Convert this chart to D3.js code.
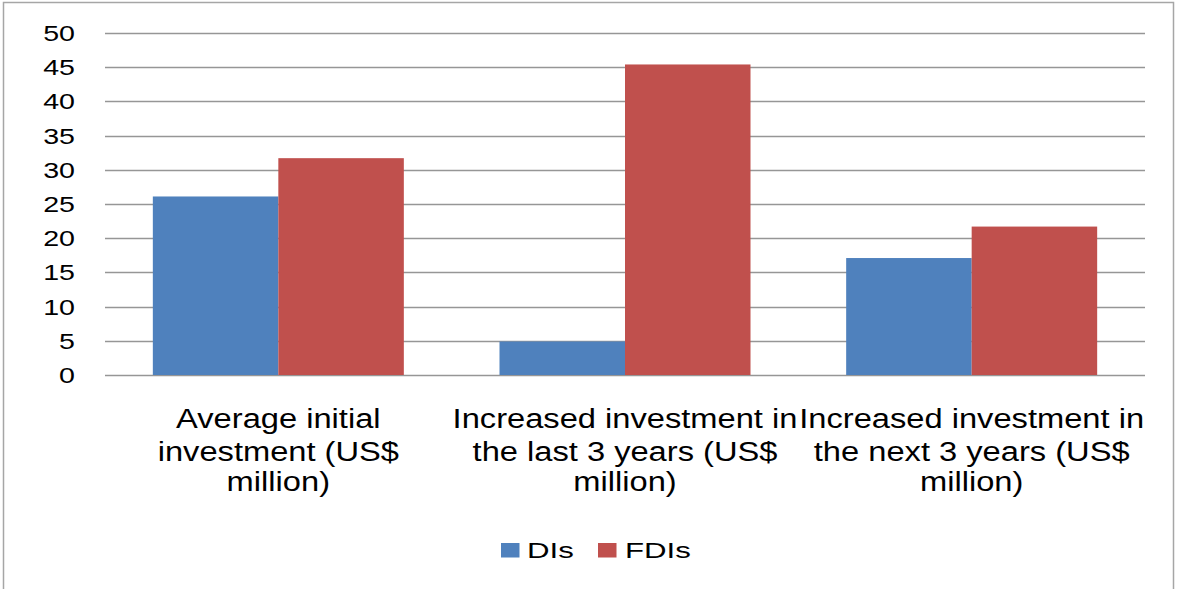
<!DOCTYPE html>
<html><head><meta charset="utf-8">
<script src="https://cdn.jsdelivr.net/npm/d3@7/dist/d3.min.js"></script>
<style>body{margin:0;background:#fff}svg{display:block}text{font-family:"Liberation Sans",Arial,sans-serif;fill:#000}</style>
</head><body>
<svg id="c" width="1179" height="589"></svg>
<script>
const categories = [
  ["Average initial", "investment (US$", "million)"],
  ["Increased investment in", "the last 3 years (US$", "million)"],
  ["Increased investment in", "the next 3 years (US$", "million)"]
];
const seriesNames = ["DIs", "FDIs"];
const colors = ["#4F81BD", "#C0504D"];
const DIs = [26.1, 4.9, 17.1];
const FDIs = [31.7, 45.4, 21.7];
const yTicks = [0, 5, 10, 15, 20, 25, 30, 35, 40, 45, 50];

const svg = d3.select("#c");
svg.append("rect").attr("x", 3.5).attr("y", 2.5).attr("width", 1170).attr("height", 600)
  .attr("fill", "#fff").attr("stroke", "#a6a6a6").attr("stroke-width", 1.5);

const L = 105, R = 1145, T = 33, B = 375;
const x0 = d3.scaleBand().domain(d3.range(categories.length)).range([L, R]).paddingInner(0).paddingOuter(0);
const barW = 125.5;
const y = d3.scaleLinear().domain([0, 50]).range([B, T]);

// gridlines
svg.append("g").selectAll("line").data(yTicks).join("line")
  .attr("x1", L).attr("x2", R)
  .attr("y1", d => Math.round(y(d)) + 0.5).attr("y2", d => Math.round(y(d)) + 0.5)
  .attr("stroke", "#969696").attr("stroke-width", 1.3);

// tick labels
svg.append("g").selectAll("text").data(yTicks).join("text")
  .attr("transform", d => `translate(75,${y(d) + 8}) scale(1.3,1)`)
  .attr("text-anchor", "end").attr("font-size", 22).text(d => d);

// bars
const data = [DIs, FDIs];
data.forEach((vals, si) => {
  svg.append("g").selectAll("rect").data(vals).join("rect")
    .attr("x", (d, i) => x0(i) + x0.bandwidth() / 2 - barW + si * barW)
    .attr("width", barW)
    .attr("y", d => y(d)).attr("height", d => y(0) - y(d))
    .attr("fill", colors[si]);
});

// category labels
const lineY = [428, 461, 491];
categories.forEach((lines, i) => {
  lines.forEach((t, j) => {
    svg.append("text")
      .attr("transform", `translate(${x0(i) + x0.bandwidth() / 2},${lineY[j]}) scale(1.21,1)`)
      .attr("text-anchor", "middle").attr("font-size", 27).text(t);
  });
});

// legend
const leg = [{x: 501, tx: 527}, {x: 598, tx: 625}];
seriesNames.forEach((n, i) => {
  svg.append("rect").attr("x", leg[i].x).attr("y", 543).attr("width", 18.5).attr("height", 14.5).attr("fill", colors[i]);
  svg.append("text").attr("transform", `translate(${leg[i].tx},557.5) scale(1.42,1)`)
    .attr("font-size", 22).text(n);
});
</script>
</body></html>
